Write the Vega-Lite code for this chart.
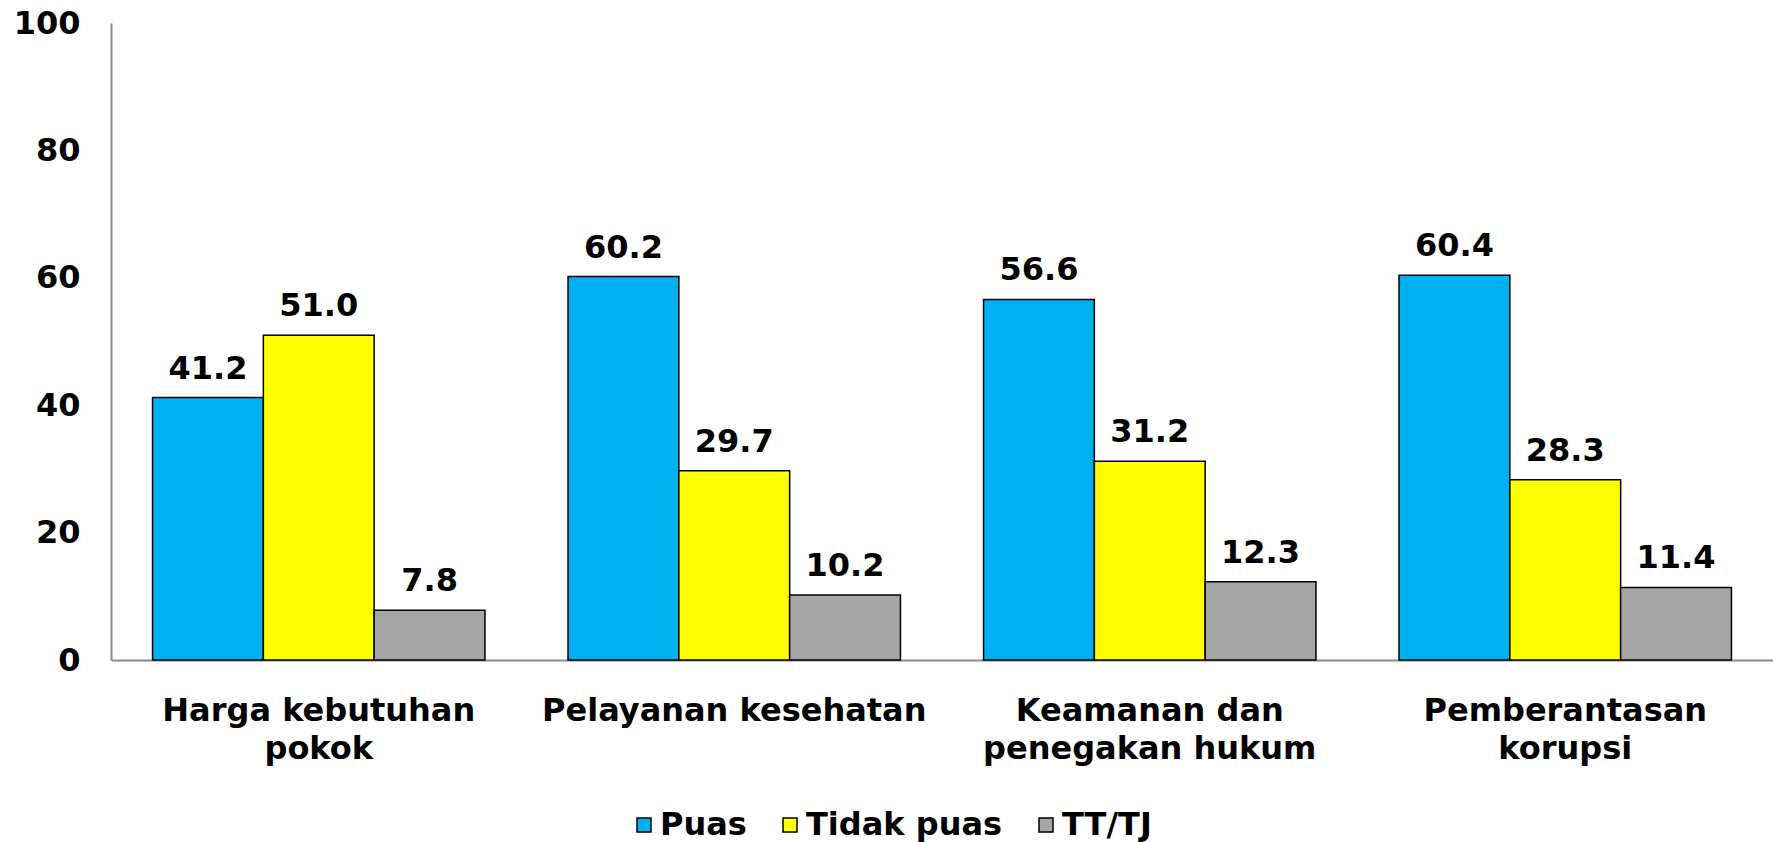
{
  "$schema": "https://vega.github.io/schema/vega-lite/v6.json",
  "width": 1662,
  "height": 637,
  "autosize": "none",
  "padding": {"left": 111, "top": 23, "right": 0, "bottom": 182},
  "background": "white",
  "config": {
    "view": {"stroke": null},
    "font": "DejaVu Sans",
    "axis": {"grid": false, "ticks": false, "domainColor": "#8c8c8c", "domainWidth": 2, "labelColor": "black", "labelFont": "DejaVu Sans", "labelFontWeight": "bold", "labelFontSize": 32, "labelLimit": 0, "title": null}
  },
  "data": {
    "values": [
      {"kategori": "Harga kebutuhan pokok", "kelompok": "Puas", "nilai": 41.2},
      {"kategori": "Harga kebutuhan pokok", "kelompok": "Tidak puas", "nilai": 51.0},
      {"kategori": "Harga kebutuhan pokok", "kelompok": "TT/TJ", "nilai": 7.8},
      {"kategori": "Pelayanan kesehatan", "kelompok": "Puas", "nilai": 60.2},
      {"kategori": "Pelayanan kesehatan", "kelompok": "Tidak puas", "nilai": 29.7},
      {"kategori": "Pelayanan kesehatan", "kelompok": "TT/TJ", "nilai": 10.2},
      {"kategori": "Keamanan dan penegakan hukum", "kelompok": "Puas", "nilai": 56.6},
      {"kategori": "Keamanan dan penegakan hukum", "kelompok": "Tidak puas", "nilai": 31.2},
      {"kategori": "Keamanan dan penegakan hukum", "kelompok": "TT/TJ", "nilai": 12.3},
      {"kategori": "Pemberantasan korupsi", "kelompok": "Puas", "nilai": 60.4},
      {"kategori": "Pemberantasan korupsi", "kelompok": "Tidak puas", "nilai": 28.3},
      {"kategori": "Pemberantasan korupsi", "kelompok": "TT/TJ", "nilai": 11.4}
    ]
  },
  "encoding": {
    "x": {
      "field": "kategori", "type": "nominal", "sort": null,
      "scale": {"paddingInner": 0.2, "paddingOuter": 0.1},
      "axis": {
        "labelAngle": 0, "labelPadding": 35, "labelLineHeight": 38, "labelBaseline": "top",
        "labelExpr": "datum.value == 'Harga kebutuhan pokok' ? ['Harga kebutuhan', 'pokok'] : datum.value == 'Keamanan dan penegakan hukum' ? ['Keamanan dan', 'penegakan hukum'] : datum.value == 'Pemberantasan korupsi' ? ['Pemberantasan', 'korupsi'] : datum.value"
      }
    },
    "xOffset": {"field": "kelompok", "type": "nominal", "sort": ["Puas", "Tidak puas", "TT/TJ"], "scale": {"paddingInner": 0, "paddingOuter": 0}},
    "y": {
      "field": "nilai", "type": "quantitative",
      "scale": {"domain": [0, 100], "nice": false},
      "axis": {"values": [0, 20, 40, 60, 80, 100], "labelPadding": 31}
    }
  },
  "layer": [
    {
      "mark": {"type": "bar", "stroke": "black", "strokeWidth": 1.5},
      "encoding": {
        "color": {
          "field": "kelompok", "type": "nominal",
          "scale": {"domain": ["Puas", "Tidak puas", "TT/TJ"], "range": ["#00B0F0", "#FFFF00", "#A6A6A6"]},
          "legend": {
            "title": null, "orient": "none", "direction": "horizontal",
            "legendX": 517, "legendY": 786,
            "symbolType": "square", "symbolSize": 196, "symbolStrokeColor": "black", "symbolStrokeWidth": 1.5,
            "labelFont": "DejaVu Sans", "labelFontWeight": "bold", "labelFontSize": 32, "labelColor": "black", "labelLimit": 0,
            "labelOffset": 0, "columnPadding": 27
          }
        }
      }
    },
    {
      "mark": {"type": "text", "baseline": "alphabetic", "dy": -19, "font": "DejaVu Sans", "fontWeight": "bold", "fontSize": 32, "color": "black"},
      "encoding": {
        "text": {"field": "nilai", "type": "quantitative", "format": ".1f"}
      }
    }
  ]
}
